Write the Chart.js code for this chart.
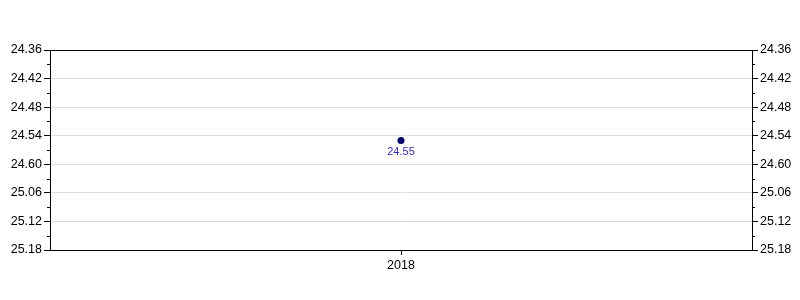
<!DOCTYPE html>
<html>
<head>
<meta charset="utf-8">
<script src="https://cdn.jsdelivr.net/npm/chart.js@4/dist/chart.umd.min.js"></script>
<style>
  html, body { margin: 0; padding: 0; background: #fff; }
  #wadah { width: 800px; height: 300px; }
</style>
</head>
<body>
<div id="wadah"><canvas id="grafik" width="800" height="300"></canvas></div>
<script>
// data dari gambar
const kategori = ['2018'];
const nilai = [24.55];
const labelSumbu = ['24.36', '24.42', '24.48', '24.54', '24.60', '25.06', '25.12', '25.18'];
const sumbuMin = 24.36;
const sumbuMax = 24.78;
const langkah = 0.03; // setengah jarak label, untuk tick kecil

Chart.defaults.font.family = 'Arial, "Liberation Sans", sans-serif';
Chart.defaults.font.size = 12.5;
Chart.defaults.color = '#000';

// nomor tick dihitung dari nilainya (urutan tick dibalik kalau reverse)
function nomorTick(v) { return Math.round((v - sumbuMin) / langkah); }

function opsiSumbuY(posisi, tampilGrid) {
    return {
        type: 'linear',
        position: posisi,
        reverse: true,
        min: sumbuMin,
        max: sumbuMax,
        afterFit: function(skala) { skala.width = posisi === 'left' ? 50 : 48; },
        border: { display: true, color: '#000' },
        grid: {
            drawOnChartArea: tampilGrid,
            color: function(c) { return nomorTick(c.tick.value) % 2 === 0 ? '#dddddd' : 'rgba(0,0,0,0)'; },
            tickColor: function(c) { return nomorTick(c.tick.value) % 2 === 0 ? '#000' : 'rgba(0,0,0,0)'; },
            tickLength: 6
        },
        ticks: {
            stepSize: langkah,
            autoSkip: false,
            padding: 2,
            color: '#000',
            callback: function(v) {
                const n = nomorTick(v);
                return n % 2 === 0 ? labelSumbu[n / 2] : '';
            }
        }
    };
}

// gambar bingkai atas, tick kecil, dan label nilai
const pluginTambahan = {
    id: 'tambahan',
    afterDatasetsDraw: function(chart) {
        const ctx = chart.ctx;
        const area = chart.chartArea;
        ctx.save();
        ctx.strokeStyle = '#000';
        ctx.lineWidth = 1;
        ctx.beginPath();
        ctx.moveTo(area.left, area.top + 0.5);
        ctx.lineTo(area.right, area.top + 0.5);
        ctx.stroke();

        ['y', 'y2'].forEach(function(id) {
            const s = chart.scales[id];
            s.ticks.forEach(function(t) {
                if (nomorTick(t.value) % 2 === 0) return;
                const py = Math.round(s.getPixelForValue(t.value)) + 0.5;
                ctx.beginPath();
                if (id === 'y') { ctx.moveTo(area.left - 3, py); ctx.lineTo(area.left, py); }
                else { ctx.moveTo(area.right, py); ctx.lineTo(area.right + 3, py); }
                ctx.stroke();
            });
        });

        const meta = chart.getDatasetMeta(0);
        ctx.fillStyle = '#3333aa';
        ctx.font = '11px Arial, "Liberation Sans", sans-serif';
        ctx.textAlign = 'center';
        ctx.textBaseline = 'top';
        meta.data.forEach(function(titik, i) {
            ctx.fillText(nilai[i].toFixed(2), titik.x, titik.y + 6);
        });
        ctx.restore();
    }
};

new Chart(document.getElementById('grafik').getContext('2d'), {
    type: 'line',
    data: {
        labels: kategori,
        datasets: [{
            data: nilai,
            yAxisID: 'y',
            borderColor: '#000066',
            backgroundColor: '#000066',
            pointRadius: 3.5,
            pointBorderWidth: 0,
            showLine: false
        }]
    },
    options: {
        responsive: false,
        animation: false,
        layout: { padding: { top: 50, left: 0, right: 0, bottom: 0 } },
        plugins: { legend: { display: false }, tooltip: { enabled: false } },
        scales: {
            x: {
                type: 'category',
                offset: true,
                afterFit: function(skala) { skala.height = 50; },
                border: { display: true, color: '#000' },
                grid: { drawOnChartArea: false, tickLength: 5, tickColor: '#000' },
                ticks: { padding: 3, color: '#000' }
            },
            y: opsiSumbuY('left', true),
            y2: opsiSumbuY('right', false)
        }
    },
    plugins: [pluginTambahan]
});
</script>
</body>
</html>
